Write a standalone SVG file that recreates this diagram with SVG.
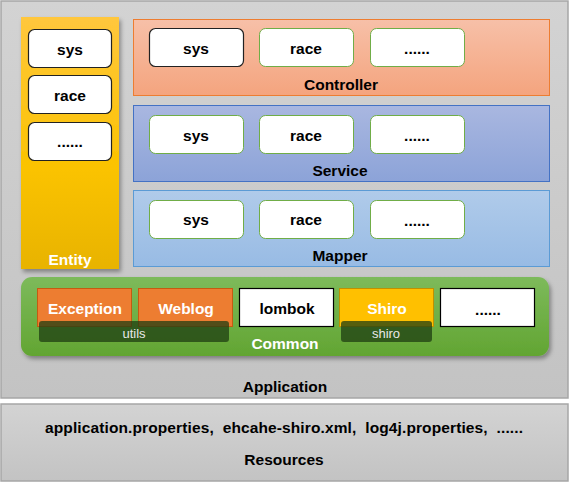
<svg xmlns="http://www.w3.org/2000/svg" width="570" height="483" viewBox="0 0 570 483">
<defs>
<linearGradient id="gApp" x1="0" y1="0" x2="0" y2="1"><stop offset="0" stop-color="#d3d3d3"/><stop offset="1" stop-color="#c3c3c3"/></linearGradient>
<linearGradient id="gEnt" x1="0" y1="0" x2="0" y2="1"><stop offset="0" stop-color="#ffc73d"/><stop offset="0.6" stop-color="#fbc300"/><stop offset="1" stop-color="#e8b300"/></linearGradient>
<linearGradient id="gCtl" x1="0" y1="0" x2="0" y2="1"><stop offset="0" stop-color="#f7c0a8"/><stop offset="1" stop-color="#f4a47e"/></linearGradient>
<linearGradient id="gSvc" x1="0" y1="0" x2="0" y2="1"><stop offset="0" stop-color="#a9b7e0"/><stop offset="1" stop-color="#8ca3d8"/></linearGradient>
<linearGradient id="gMap" x1="0" y1="0" x2="0" y2="1"><stop offset="0" stop-color="#b0cbea"/><stop offset="1" stop-color="#98bbe4"/></linearGradient>
<linearGradient id="gCom" x1="0" y1="0" x2="0" y2="1"><stop offset="0" stop-color="#7dba5b"/><stop offset="1" stop-color="#62a532"/></linearGradient>
<filter id="sh" x="-10%" y="-10%" width="130%" height="130%"><feDropShadow dx="2" dy="3" stdDeviation="2" flood-color="#000" flood-opacity="0.35"/></filter>
</defs>
<style>
text{font-family:"Liberation Sans",Arial,sans-serif;font-weight:bold;font-size:15.5px;text-anchor:middle;dominant-baseline:central;fill:#000}
.w{fill:#fff}
.lt{font-weight:normal;font-size:13px;fill:#e8e8e8}
.bx{fill:#fff;stroke:#70ad47;stroke-width:1}
.bxk{fill:#fff;stroke:#222;stroke-width:1.2}
</style>
<g id="application">
<rect x="1" y="1" width="567" height="397" fill="url(#gApp)" stroke="#a6a6a6" stroke-width="1.5"/>
<text x="285" y="386">Application</text>
</g>
<g id="resources">
<rect x="1" y="404" width="567" height="77" fill="url(#gApp)" stroke="#a6a6a6" stroke-width="1.5"/>
<text x="284" y="427" font-size="14.5" xml:space="preserve" textLength="478" lengthAdjust="spacing">application.properties,  ehcahe-shiro.xml,  log4j.properties,  ......</text>
<text x="284" y="459">Resources</text>
</g>
<g id="entity">
<rect x="21" y="17" width="98" height="252" fill="url(#gEnt)" filter="url(#sh)"/>
<rect class="bxk" x="28.5" y="29.5" width="83" height="38" rx="6"/><text x="70" y="49">sys</text>
<rect class="bxk" x="28.5" y="75.5" width="83" height="38" rx="6"/><text x="70" y="95">race</text>
<rect class="bxk" x="28.5" y="122.5" width="83" height="38" rx="6"/><text x="70" y="141">......</text>
<text class="w" x="70" y="259">Entity</text>
</g>
<g id="controller">
<rect x="133.5" y="19.5" width="416" height="76" fill="url(#gCtl)" stroke="#ed7d31" stroke-width="1"/>
<rect class="bxk" x="149.5" y="28.5" width="94" height="38" rx="6"/><text x="196" y="48">sys</text>
<rect class="bx" x="259.5" y="28.5" width="94" height="38" rx="6"/><text x="306" y="48">race</text>
<rect class="bx" x="370.5" y="28.5" width="94" height="38" rx="6"/><text x="417" y="48">......</text>
<text x="341" y="84">Controller</text>
</g>
<g id="service">
<rect x="133.5" y="105.5" width="416" height="76" fill="url(#gSvc)" stroke="#4472c4" stroke-width="1"/>
<rect class="bx" x="149.5" y="115.5" width="94" height="38" rx="6"/><text x="196" y="135">sys</text>
<rect class="bx" x="259.5" y="115.5" width="94" height="38" rx="6"/><text x="306" y="135">race</text>
<rect class="bx" x="370.5" y="115.5" width="94" height="38" rx="6"/><text x="417" y="135">......</text>
<text x="340" y="170">Service</text>
</g>
<g id="mapper">
<rect x="133.5" y="190.5" width="416" height="76" fill="url(#gMap)" stroke="#5b9bd5" stroke-width="1"/>
<rect class="bx" x="149.5" y="200.5" width="94" height="38" rx="6"/><text x="196" y="219">sys</text>
<rect class="bx" x="259.5" y="200.5" width="94" height="38" rx="6"/><text x="306" y="219">race</text>
<rect class="bx" x="370.5" y="200.5" width="94" height="38" rx="6"/><text x="417" y="220">......</text>
<text x="340" y="255">Mapper</text>
</g>
<g id="common">
<rect x="21" y="277" width="528" height="79" rx="11" fill="url(#gCom)" filter="url(#sh)"/>
<rect x="37.5" y="288.5" width="94" height="38" fill="#ed7d31" stroke="#c55a11" stroke-width="1"/><text class="w" x="85" y="308">Exception</text>
<rect x="138.5" y="288.5" width="94" height="38" fill="#ed7d31" stroke="#c55a11" stroke-width="1"/><text class="w" x="186" y="308">Weblog</text>
<rect x="239.5" y="288.5" width="94" height="38" fill="#fff" stroke="#000" stroke-width="1.2"/><text x="287" y="308">lombok</text>
<rect x="339.5" y="288.5" width="94" height="38" fill="#ffc000" stroke="#c09000" stroke-width="1"/><text class="w" x="387" y="308">Shiro</text>
<rect x="440.5" y="288.5" width="94" height="38" fill="#fff" stroke="#000" stroke-width="1.2"/><text x="488" y="309">......</text>
<rect x="39" y="321" width="190" height="21" rx="3" fill="#1e3d12" fill-opacity="0.75"/><text class="lt" x="134" y="333">utils</text>
<rect x="341" y="321" width="91" height="21" rx="3" fill="#1e3d12" fill-opacity="0.75"/><text class="lt" x="386" y="333">shiro</text>
<text class="w" x="285" y="343">Common</text>
</g>
<g id="connectors"></g>
</svg>
